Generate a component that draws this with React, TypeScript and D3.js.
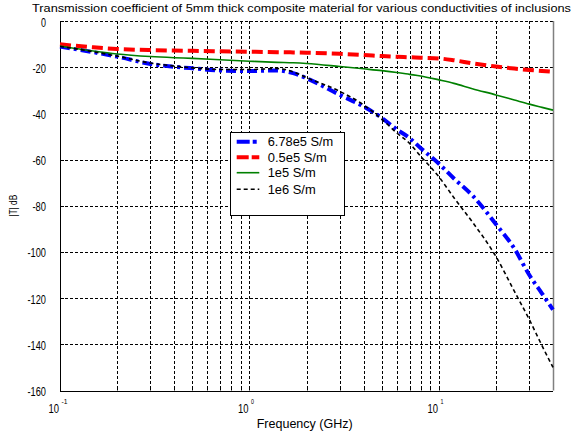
import React from "react";
import * as d3 from "d3";

const freqs = [0.1, 0.15, 0.2, 0.3, 0.4, 0.5, 0.7, 1, 1.4, 1.7, 2, 3, 4, 5, 6, 7, 8, 10, 12, 15, 20, 25, 30, 35, 40];
const s678e5 = [-11.1, -13.5, -15.4, -18.6, -19.8, -20.5, -21.4, -21.7, -21.4, -22.6, -24.8, -32.0, -37.0, -42.0, -47.0, -50.7, -55.0, -61.8, -68.2, -75.5, -88.0, -98.5, -110.0, -118.0, -125.0];
const s05e5 = [-10.1, -11.4, -12.1, -12.6, -12.8, -12.9, -13.1, -13.3, -13.5, -13.6, -13.7, -14.2, -14.7, -15.2, -15.5, -15.7, -15.9, -16.2, -17.0, -18.3, -19.7, -20.6, -21.2, -21.6, -22.0];
const s1e5 = [-10.8, -13.0, -14.3, -15.4, -15.9, -16.2, -16.8, -17.4, -17.9, -18.1, -18.4, -19.7, -20.7, -21.5, -22.3, -23.1, -23.8, -25.5, -27.0, -29.3, -32.0, -34.2, -36.0, -37.4, -38.6];
const s1e6 = [-11.0, -13.3, -15.2, -18.2, -19.5, -20.3, -21.0, -21.0, -20.6, -22.0, -24.5, -30.5, -36.3, -42.6, -48.5, -53.0, -58.5, -67.5, -76.5, -87.0, -102.0, -117.0, -129.3, -140.6, -150.0];

const seriesNames = ["6.78e5 S/m", "0.5e5 S/m", "1e5 S/m", "1e6 S/m"];
const yTicks = [0, -20, -40, -60, -80, -100, -120, -140, -160];
const xDecades = [-1, 0, 1];
const titleText = "Transmission coefficient of 5mm thick composite material for various conductivities of inclusions";
const xLabelText = "Frequency (GHz)";
const yLabelText = "|T| dB";

const W = 578, H = 437;
const L = 60, R = 553, T = 21, B = 390.5;

export default function App() {
  const x = d3.scaleLog().domain([0.1, 40]).range([L, R]);
  const y = d3.scaleLinear().domain([-160, 0]).range([B, T]);

  const styles = [
    { color: "#0000ff", width: 4, dash: "10,4,3,4" },
    { color: "#ff0000", width: 4, dash: "11,5" },
    { color: "#008000", width: 1.6, dash: "none" },
    { color: "#000000", width: 1.6, dash: "4,3" },
  ];
  const data = [s678e5, s05e5, s1e5, s1e6];

  const line = (vals: number[]) =>
    d3.line<number>()
      .x((_, i) => x(freqs[i]))
      .y((v) => y(v))
      .curve(d3.curveMonotoneX)(vals) || "";

  const minorX: number[] = [];
  for (let d = -1; d <= 1; d++) {
    for (let m = 1; m <= 9; m++) {
      const v = m * Math.pow(10, d);
      if (v > 0.1 && v < 40) minorX.push(v);
    }
  }
  const px = (v: number) => Math.round(v) + 0.5;

  const tickW = (s: string) => s.replace("-", "").length * 5 + (s.startsWith("-") ? 3.5 : 0);

  const legX = 230.5, legY = 132.5, legW = 114, legH = 83;
  const rowY = [141.7, 157.3, 172.7, 189.3];
  const legTextW = [65.6, 59, 48, 48];

  return (
    <svg width={W} height={H} style={{ position: "absolute", left: 0, top: 0, background: "#fff" }}
      fontFamily="'Liberation Sans', Arial, sans-serif">
      <rect x={0} y={0} width={W} height={H} fill="#fff" />
      <rect x={L} y={T} width={R - L} height={B - T} fill="#fff" />
      {/* grid */}
      <g stroke="#000" strokeWidth={1} strokeDasharray="3,2" fill="none">
        {minorX.map((v, i) => (
          <line key={"gx" + i} x1={px(x(v))} x2={px(x(v))} y1={T} y2={B} />
        ))}
        {yTicks.filter((t) => t > -160).map((t) => (
          <line key={"gy" + t} x1={L} x2={R} y1={px(y(t))} y2={px(y(t))} />
        ))}
      </g>
      {/* box */}
      <line x1={px(R)} x2={px(R)} y1={T} y2={B} stroke="#808080" strokeWidth={1.5} />
      <line x1={L} x2={L} y1={T} y2={px(B)} stroke="#000" strokeWidth={1} transform="translate(0.5,0)" />
      <line x1={L} x2={R} y1={px(B)} y2={px(B)} stroke="#000" strokeWidth={1} />
      {/* ticks */}
      <g stroke="#000" strokeWidth={1}>
        {minorX.map((v, i) => (
          <line key={"tk" + i} x1={px(x(v))} x2={px(x(v))} y1={B} y2={B - 4} />
        ))}
        {yTicks.map((t) => (
          <line key={"ty" + t} x1={L} x2={L + 4} y1={px(y(t))} y2={px(y(t))} />
        ))}
      </g>
      {/* series */}
      {data.map((vals, i) => (
        <path key={"s" + i} d={line(vals)} fill="none" stroke={styles[i].color}
          strokeWidth={styles[i].width} strokeDasharray={styles[i].dash} strokeLinejoin="round" />
      ))}
      {/* y tick labels */}
      {yTicks.map((t) => {
        const s = String(t);
        return (
          <text key={"yl" + t} x={46} y={y(t) + 5.5} textAnchor="end" fontSize={12}
            textLength={tickW(s)} lengthAdjust="spacingAndGlyphs" fill="#000">{s}</text>
        );
      })}
      {/* x tick labels */}
      {xDecades.map((d) => {
        const xv = x(Math.pow(10, d));
        const sup = String(d);
        return (
          <g key={"xl" + d}>
            <text x={xv - 1} y={413} textAnchor="end" fontSize={12} textLength={10.5}
              lengthAdjust="spacingAndGlyphs" fill="#000">10</text>
            <text x={xv + 1.5} y={404} fontSize={7.5} fill="#000"
              textLength={sup.length > 1 ? 6 : 3} lengthAdjust="spacingAndGlyphs">{sup}</text>
          </g>
        );
      })}
      {/* labels */}
      <text x={304.7} y={428} textAnchor="middle" fontSize={12.5} textLength={96}
        lengthAdjust="spacingAndGlyphs" fill="#000">{xLabelText}</text>
      <text transform={`translate(17,${(T + B) / 2}) rotate(-90)`} textAnchor="middle" fontSize={11.5}
        textLength={22} lengthAdjust="spacingAndGlyphs" fill="#000">{yLabelText}</text>
      <text x={301.5} y={12} textAnchor="middle" fontSize={11.5} textLength={539}
        lengthAdjust="spacingAndGlyphs" fill="#000">{titleText}</text>
      {/* legend */}
      <rect x={legX} y={legY} width={legW} height={legH} fill="#fff" stroke="#000" strokeWidth={1} />
      {seriesNames.map((n, i) => (
        <g key={"lg" + i}>
          <line x1={236.7} x2={259.3} y1={rowY[i]} y2={rowY[i]} stroke={styles[i].color}
            strokeWidth={styles[i].width} strokeDasharray={i === 0 ? "13,3,4,10" : i === 1 ? "12,3" : styles[i].dash} />
          <text x={267.7} y={rowY[i] + 4.5} fontSize={12} textLength={legTextW[i]}
            lengthAdjust="spacingAndGlyphs" fill="#000">{n}</text>
        </g>
      ))}
    </svg>
  );
}
